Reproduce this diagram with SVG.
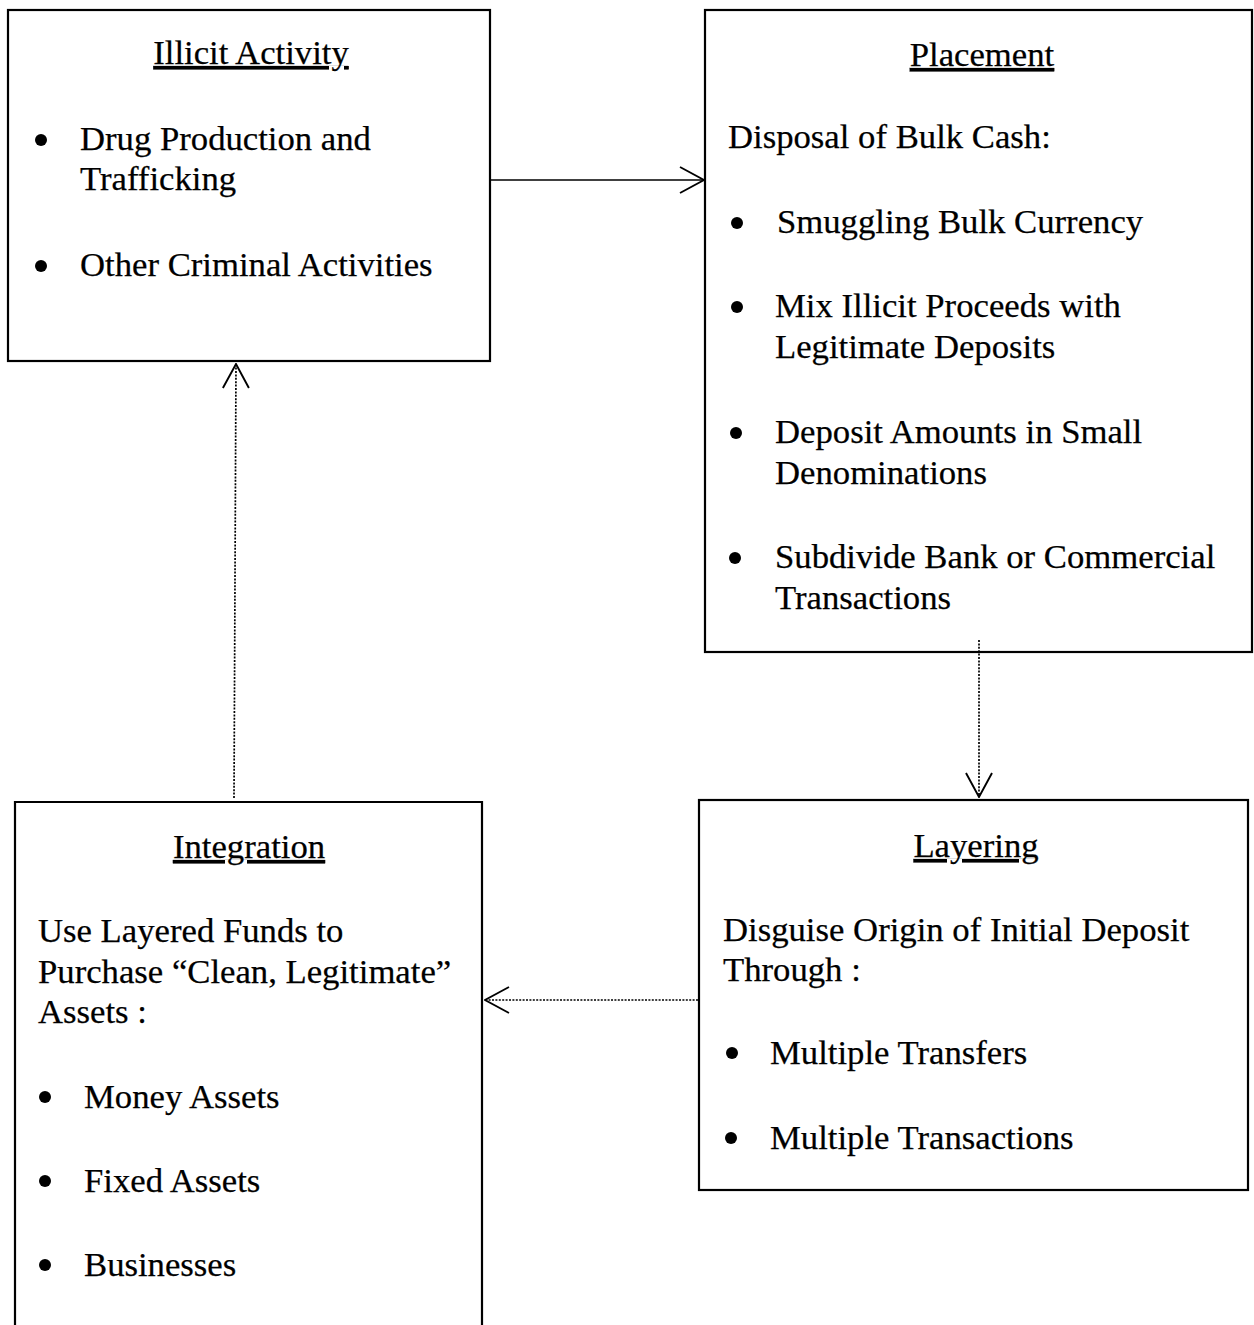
<svg xmlns="http://www.w3.org/2000/svg" width="1254" height="1325" viewBox="0 0 1254 1325">
<style>
.box{fill:none;stroke:#000;stroke-width:2.2}
text{font-family:"Liberation Serif","Times New Roman",serif;font-size:34.7px;fill:#000;stroke:#000;stroke-width:0.25}
.title{text-anchor:middle;text-decoration:underline}
.bul{fill:#000}
.conn{fill:none;stroke:#000;stroke-width:1.7}
.dot{stroke-dasharray:2 1.4}
</style>
<defs>
<marker id="open" viewBox="0 0 26 28" refX="25" refY="14" markerWidth="26" markerHeight="28" markerUnits="userSpaceOnUse" orient="auto">
<path d="M1,1 L25,14 L1,27" fill="none" stroke="#000" stroke-width="1.9"/>
</marker>
</defs>
<rect width="1254" height="1325" fill="#fff"/>
<g id="illicit">
<rect class="box" x="8" y="10" width="482" height="351"/>
<text class="title" x="251" y="64">Illicit Activity</text>
<circle class="bul" cx="41" cy="140" r="6"/>
<text x="80" y="150">Drug Production and</text>
<text x="80" y="190">Trafficking</text>
<circle class="bul" cx="41" cy="266" r="6"/>
<text x="80" y="276">Other Criminal Activities</text>
</g>
<g id="placement">
<rect class="box" x="705" y="10" width="547" height="642"/>
<text class="title" x="982" y="66">Placement</text>
<text x="728" y="148">Disposal of Bulk Cash:</text>
<circle class="bul" cx="737" cy="223" r="6"/>
<text x="777" y="233">Smuggling Bulk Currency</text>
<circle class="bul" cx="737" cy="307" r="6"/>
<text x="775" y="317">Mix Illicit Proceeds with</text>
<text x="775" y="358">Legitimate Deposits</text>
<circle class="bul" cx="736" cy="433" r="6"/>
<text x="775" y="443">Deposit Amounts in Small</text>
<text x="775" y="484">Denominations</text>
<circle class="bul" cx="735" cy="558" r="6"/>
<text x="775" y="568">Subdivide Bank or Commercial</text>
<text x="775" y="609">Transactions</text>
</g>
<g id="layering">
<rect class="box" x="699" y="800" width="549" height="390"/>
<text class="title" x="976" y="857">Layering</text>
<text x="723" y="941">Disguise Origin of Initial Deposit</text>
<text x="723" y="981">Through :</text>
<circle class="bul" cx="732" cy="1053" r="6"/>
<text x="770" y="1064">Multiple Transfers</text>
<circle class="bul" cx="731" cy="1138" r="6"/>
<text x="770" y="1149">Multiple Transactions</text>
</g>
<g id="integration">
<path class="box" d="M15,1330 L15,802 L482,802 L482,1330"/>
<text class="title" x="249" y="858">Integration</text>
<text x="38" y="942">Use Layered Funds to</text>
<text x="38" y="983">Purchase “Clean, Legitimate”</text>
<text x="38" y="1023">Assets :</text>
<circle class="bul" cx="45" cy="1097" r="6"/>
<text x="84" y="1108">Money Assets</text>
<circle class="bul" cx="45" cy="1181" r="6"/>
<text x="84" y="1192">Fixed Assets</text>
<circle class="bul" cx="45" cy="1265" r="6"/>
<text x="84" y="1276">Businesses</text>
</g>
<g id="connectors">
<line class="conn" x1="491" y1="180" x2="704" y2="180" marker-end="url(#open)"/>
<line class="conn dot" x1="979" y1="640" x2="979" y2="797" marker-end="url(#open)"/>
<line class="conn dot" x1="698" y1="1000" x2="485" y2="1000" marker-end="url(#open)"/>
<line class="conn dot" x1="234" y1="798" x2="236" y2="364" marker-end="url(#open)"/>
</g>
</svg>
